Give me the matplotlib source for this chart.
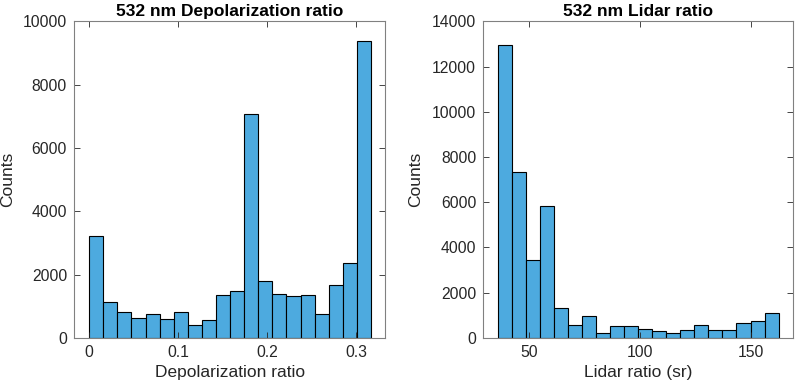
import numpy as np
import matplotlib.pyplot as plt

plt.rcParams['font.family'] = ['Liberation Sans', 'DejaVu Sans']

# histogram counts (20 bins each)
depol_edges = np.linspace(0, 0.317, 21)
depol_counts = [3220, 1140, 820, 640, 740, 590, 820, 420, 560, 1350,
                1480, 7070, 1800, 1370, 1320, 1340, 740, 1660, 2380, 9390]

lidar_edges = np.linspace(36.1, 162.6, 21)
lidar_counts = [12950, 7350, 3440, 5830, 1330, 550, 960, 230, 520, 520,
                400, 310, 230, 340, 550, 340, 340, 640, 760, 1110]

bar_color = '#4DAADF'
axis_color = '#262626'

fig = plt.figure(figsize=(7.96, 3.87), dpi=100)
ax1 = fig.add_axes([0.093, 0.127, 0.391, 0.818])
ax2 = fig.add_axes([0.607, 0.127, 0.389, 0.818])


def style(ax):
    ax.tick_params(direction='in', top=True, right=True, length=4,
                   width=0.6, colors=axis_color, labelsize=11.3, pad=5)
    for s in ax.spines.values():
        s.set_color('#808080')
        s.set_linewidth(0.8)


ax1.bar(depol_edges[:-1], depol_counts, width=np.diff(depol_edges), align='edge',
        color=bar_color, edgecolor='black', linewidth=0.8)
ax1.set_xlim(-0.017, 0.333)
ax1.set_ylim(0, 10000)
ax1.set_xticks([0, 0.1, 0.2, 0.3])
ax1.set_xticklabels(['0', '0.1', '0.2', '0.3'])
ax1.set_yticks(np.arange(0, 10001, 2000))
ax1.set_title('532 nm Depolarization ratio', fontsize=12.5, fontweight='bold', pad=4)
ax1.set_xlabel('Depolarization ratio', fontsize=12.5, color=axis_color)
ax1.set_ylabel('Counts', fontsize=12.5, color=axis_color)
ax1.yaxis.set_label_coords(-0.19, 0.5)
style(ax1)

ax2.bar(lidar_edges[:-1], lidar_counts, width=np.diff(lidar_edges), align='edge',
        color=bar_color, edgecolor='black', linewidth=0.8)
ax2.set_xlim(29.5, 169)
ax2.set_ylim(0, 14000)
ax2.set_xticks([50, 100, 150])
ax2.set_yticks(np.arange(0, 14001, 2000))
ax2.set_title('532 nm Lidar ratio', fontsize=12.5, fontweight='bold', pad=4)
ax2.set_xlabel('Lidar ratio (sr)', fontsize=12.5, color=axis_color)
ax2.set_ylabel('Counts', fontsize=12.5, color=axis_color)
ax2.yaxis.set_label_coords(-0.194, 0.5)
style(ax2)

fig.savefig('out.png', dpi=100)
